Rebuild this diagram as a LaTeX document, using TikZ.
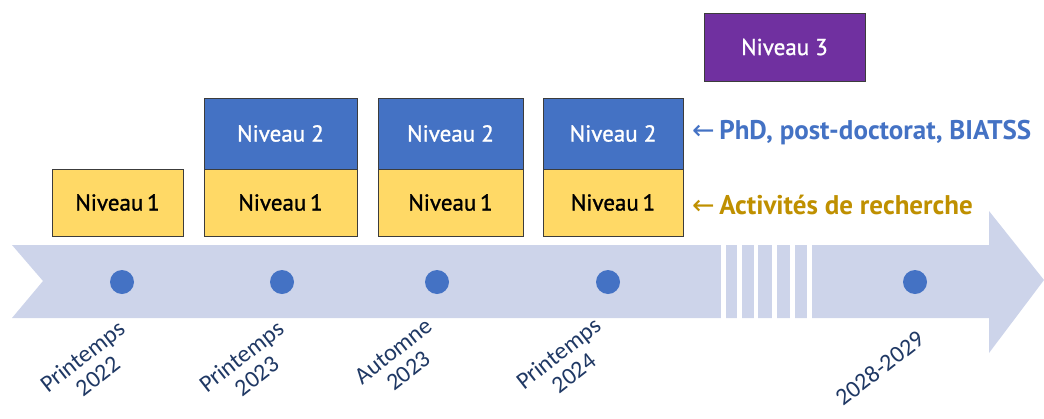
\documentclass[tikz,border=0pt]{standalone}
\usepackage{fontspec}
\setmainfont{PT Sans}
\newfontfamily\boxfont[FakeBold=1.2]{PT Sans}
\newfontfamily\datefont{Carlito}
\newfontfamily\arrfont{DejaVu Sans}
\definecolor{bandc}{RGB}{205,212,234}
\definecolor{yel}{RGB}{255,217,102}
\definecolor{blu}{RGB}{68,114,196}
\definecolor{pur}{RGB}{112,48,160}
\definecolor{gold}{RGB}{191,144,0}
\definecolor{navy}{RGB}{31,56,100}
\definecolor{edge}{RGB}{60,60,60}
\begin{document}
\begin{tikzpicture}[x=1pt,y=-1pt,
  lvbox/.style={draw=edge,line width=0.8pt,inner sep=0pt,font=\boxfont\fontsize{23}{26}\selectfont},
  lvone/.style={lvbox,fill=yel,text=black},
  lvtwo/.style={lvbox,fill=blu,text=white},
  lvthree/.style={lvbox,fill=pur,text=white},
  dotc/.style={circle,fill=blu,inner sep=0pt,minimum size=24pt},
  datelbl/.style={align=center,rotate=38,text=navy,font=\datefont\fontsize{24}{25}\selectfont,inner sep=0pt},
  sidelbl/.style={anchor=west,font=\bfseries\fontsize{27}{30}\selectfont,inner sep=0pt}
]
\useasboundingbox (0,0) rectangle (1044,418);
% band with notch and arrowhead
\fill[bandc] (12,245) -- (989,245) -- (989,211) -- (1044,280) -- (989,353) -- (989,318) -- (12,318) -- (43,281) -- cycle;
% white gaps
\foreach \a/\b in {721/726,737/742,754/758,772/777,790/795,807/812}
  \fill[white] (\a,240) rectangle (\b,322);
% dots
\node[dotc] (d1) at (122,282) {};
\node[dotc] (d2) at (282,282) {};
\node[dotc] (d3) at (437,282) {};
\node[dotc] (d4) at (608,282) {};
\node[dotc] (d5) at (915,282) {};
% boxes
\node[lvone,minimum width=131pt,minimum height=67pt] (a1) at (117.5,202.5) {Niveau\,1};
\node[lvone,minimum width=153pt,minimum height=67pt] (b1) at (280.5,202.5) {Niveau\,1};
\node[lvtwo,minimum width=153pt,minimum height=71pt] (b2) at (280.5,133.5) {Niveau 2};
\node[lvone,minimum width=145pt,minimum height=67pt] (c1) at (450.5,202.5) {Niveau\,1};
\node[lvtwo,minimum width=145pt,minimum height=71pt] (c2) at (450.5,133.5) {Niveau 2};
\node[lvone,minimum width=140pt,minimum height=67pt] (e1) at (613,202.5) {Niveau\,1};
\node[lvtwo,minimum width=140pt,minimum height=71pt] (e2) at (613,133.5) {Niveau 2};
\node[lvthree,minimum width=161pt,minimum height=68pt] (f3) at (784.5,47) {Niveau 3};
% side labels
\node[sidelbl,text=blu] (l2) at (692,133) {{\arrfont\mdseries ←}\,PhD, post-doctorat, BIATSS};
\node[sidelbl,text=gold] (l1) at (692,205) {{\arrfont\mdseries ←}\,Activités de recherche};
% date labels
\node[datelbl] (t1) at (90,366) {Printemps\\2022};
\node[datelbl] (t2) at (249,366) {Printemps\\2023};
\node[datelbl] (t3) at (401,361) {Automne\\2023};
\node[datelbl] (t4) at (566,363) {Printemps\\2024};
\node[datelbl] (t5) at (880,368) {2028-2029};
\end{tikzpicture}
\end{document}
